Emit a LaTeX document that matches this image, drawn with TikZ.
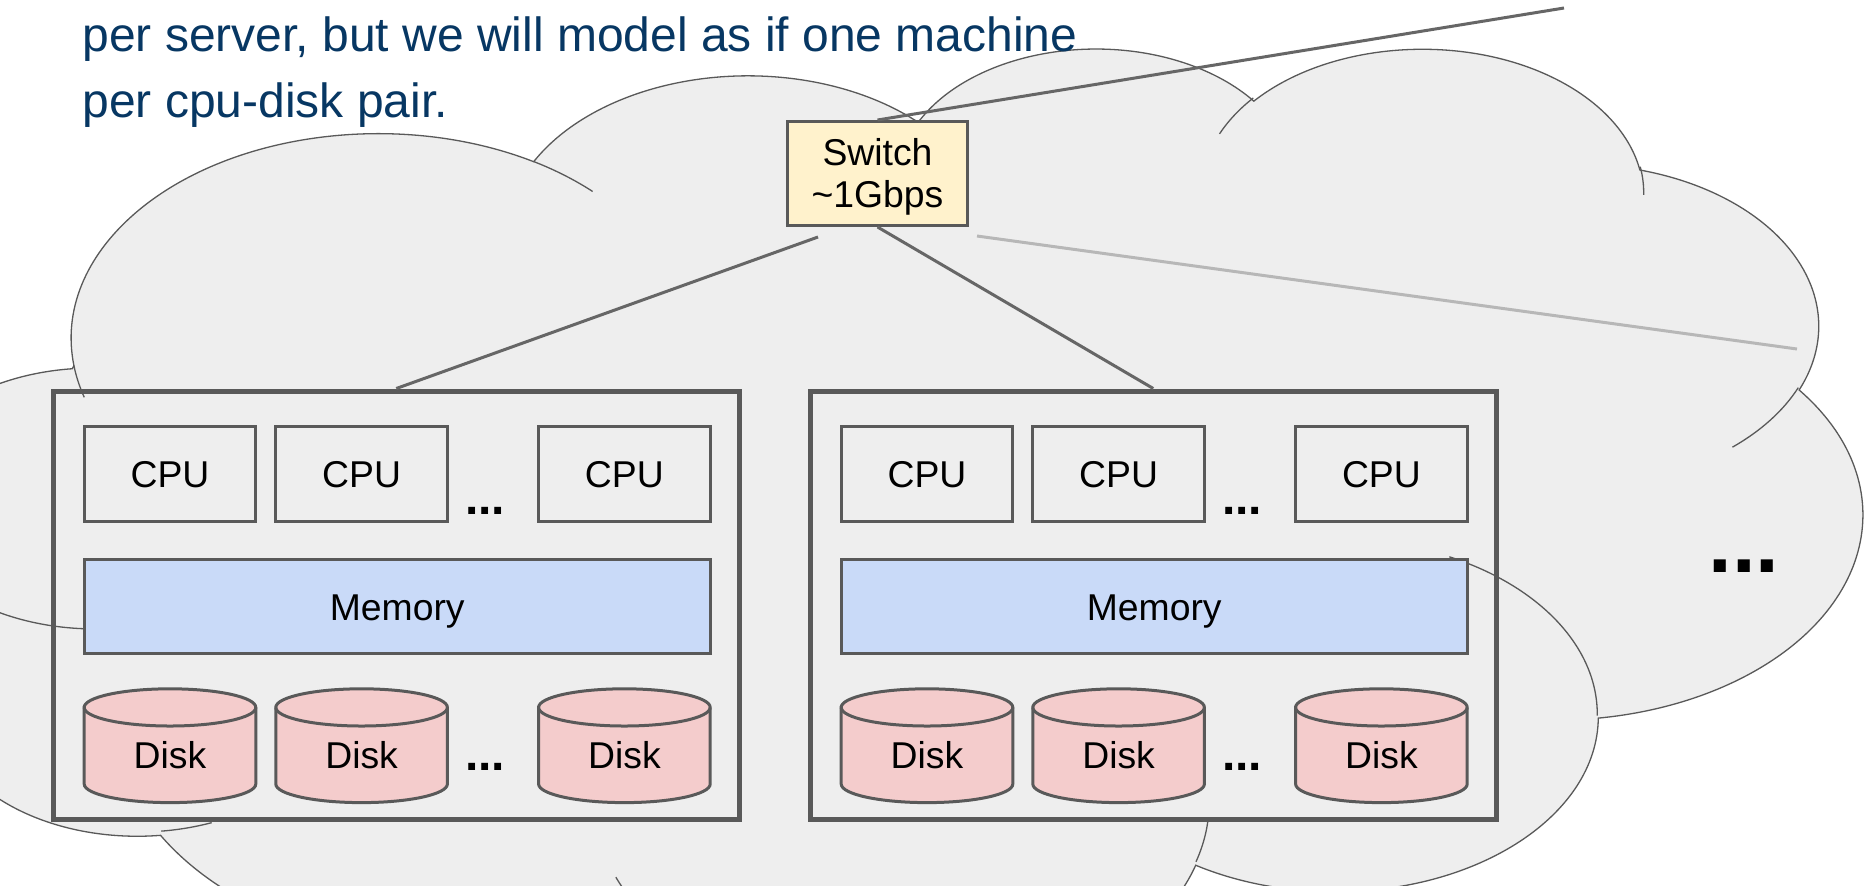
\documentclass[tikz,border=0pt]{standalone}
\usepackage{fontspec}
\setmainfont{Liberation Sans}

\definecolor{boxline}{HTML}{595959}
\definecolor{wire}{HTML}{666666}
\definecolor{wirelight}{HTML}{B7B7B7}
\definecolor{cloudfill}{HTML}{EEEEEE}
\definecolor{cloudline}{HTML}{595959}
\definecolor{memfill}{HTML}{C9DAF8}
\definecolor{diskfill}{HTML}{F4CCCC}
\definecolor{switchfill}{HTML}{FFF2CC}
\definecolor{titleblue}{HTML}{073763}

% Elliptical arc of the cloud outline: x radius, y radius, start angle, sweep.
% Angles are geometric (direction from the centre); pgf wants parametric ones.
\newcommand\cloudarc[4]{%
  \pgfmathsetmacro\cldA{atan2((#1)*sin(#3),(#2)*cos(#3))}%
  \pgfmathsetmacro\cldB{atan2((#1)*sin((#3)+(#4)),(#2)*cos((#3)+(#4)))}%
  \pgfmathsetmacro\cldD{\cldB-\cldA}%
  \pgfmathsetmacro\cldD{\cldD-360*round((\cldD-(#4))/360)}%
  \pgfmathsetmacro\cldB{\cldA+\cldD}%
  \pgfpatharc{\cldA}{\cldB}{#1pt and #2pt}%
}

% A disk cylinder centred at x (top rim at y=707.4), with its named label.
\newcommand\drawdisk[2]{%
  \path[diskbody] ({#2-85.8},707.4) -- ({#2-85.8},784)
    arc[start angle=180, end angle=0, x radius=42.9pt, y radius=9.3pt]
    -- ({#2+85.8},707.4)
    arc[start angle=0, end angle=-180, x radius=42.9pt, y radius=9.3pt]
    -- cycle;
  \draw[diskrim] ({#2-85.8},707.4)
    arc[start angle=180, end angle=0, x radius=42.9pt, y radius=9.3pt];
  \node[disklabel] (#1) at (#2,768.3) {Disk};
}

\tikzset{
  lblfont/.style={font=\fontsize{18.67pt}{21.25pt}\selectfont},
  unitbox/.style={draw=boxline, line width=1.5pt, inner sep=0pt, lblfont,
    text height=13.37pt, text depth=0pt},
  cpubox/.style={unitbox, minimum width=85.8pt, minimum height=47.35pt},
  membox/.style={unitbox, fill=memfill, minimum width=313pt, minimum height=46.85pt},
  server/.style={draw=boxline, line width=2.5pt, inner sep=0pt,
    minimum width=342.75pt, minimum height=214.25pt},
  switchbox/.style={draw=boxline, line width=1.5pt, fill=switchfill, inner sep=0pt,
    minimum width=90pt, minimum height=52pt, lblfont, align=center},
  netline/.style={draw=wire, line width=1.5pt},
  netfaint/.style={draw=wirelight, line width=1.5pt},
  diskbody/.style={fill=diskfill, draw=boxline, line width=1.5pt},
  diskrim/.style={draw=boxline, line width=1.5pt},
  disklabel/.style={inner sep=0pt, anchor=base, lblfont},
  moredots/.style={inner sep=0pt, anchor=base west,
    font=\fontsize{24pt}{24pt}\selectfont\bfseries},
  bigmoredots/.style={inner sep=0pt, anchor=base west,
    font=\fontsize{42.5pt}{42.5pt}\selectfont\bfseries},
  headline/.style={inner sep=0pt, anchor=base west, text=titleblue,
    font=\fontsize{24pt}{33pt}\selectfont}
}

\begin{document}
\begin{tikzpicture}[x=0.5pt, y=0.5pt, yscale=-1]
\useasboundingbox (0,0) rectangle (1872,885);
\fill[white] (0,0) rectangle (1872,885);
\clip (0,0) rectangle (1872,885);

% ---- cloud (outline in a 4320 x 4320 design grid, y pointing down)
\begin{scope}[shift={(-103.5,45.9)}, xscale=0.2275, yscale=0.111275]
  \pgfsetlinewidth{0.65pt}%
  \pgfsetstrokecolor{cloudline}%
  \pgfsetfillcolor{cloudfill}%
  \pgfpathmoveto{\pgfpoint{390pt}{1437pt}}%
  \cloudarc{675.3}{919.0}{-190.4875}{123.7805}%
  \cloudarc{533.3}{726.7}{-144.1024}{89.9452}%
  \cloudarc{436.5}{594.5}{-145.8079}{99.7230}%
  \cloudarc{485.7}{659.5}{-130.9861}{117.2417}%
  \cloudarc{533.3}{727.3}{-78.7089}{109.0269}%
  \cloudarc{677.5}{922.0}{-46.2673}{130.2690}%
  \cloudarc{578.5}{786.7}{0.6250}{114.0333}%
  \cloudarc{675.2}{921.5}{22.4516}{115.1726}%
  \cloudarc{772.0}{1054.3}{66.2426}{75.7110}%
  \cloudarc{436.0}{591.8}{-274.9421}{146.7356}%
  \cloudarc{434.5}{594.5}{-246.8285}{152.5189}%
  \pgfpathclose
  \pgfusepath{fill,stroke}%
  % inner creases of the puffs
  \pgfpathmoveto{\pgfpoint{469.3pt}{2617.7pt}}\cloudarc{434.5}{594.5}{86.7420}{26.4295}%
  \pgfpathmoveto{\pgfpoint{692.8pt}{3489.9pt}}\cloudarc{436.0}{591.8}{73.6105}{11.4475}%
  \pgfpathmoveto{\pgfpoint{1647.8pt}{3909.0pt}}\cloudarc{675.2}{921.5}{137.6242}{14.0811}%
  \pgfpathmoveto{\pgfpoint{2882.7pt}{3475.1pt}}\cloudarc{675.2}{921.5}{6.4533}{15.9984}%
  \pgfpathmoveto{\pgfpoint{3412.9pt}{2295.4pt}}\cloudarc{578.5}{786.7}{-70.2924}{70.9174}%
  \pgfpathmoveto{\pgfpoint{4179.8pt}{1535.4pt}}\cloudarc{533.3}{727.3}{30.3180}{27.7515}%
  \pgfpathmoveto{\pgfpoint{3832.4pt}{542.6pt}}\cloudarc{485.7}{659.5}{-13.7443}{14.8589}%
  \pgfpathmoveto{\pgfpoint{2907.8pt}{395.2pt}}\cloudarc{485.7}{659.5}{-149.1815}{18.1954}%
  \pgfpathmoveto{\pgfpoint{2214.1pt}{472.0pt}}\cloudarc{436.5}{594.5}{-163.4943}{17.6864}%
  \pgfpathmoveto{\pgfpoint{1400.0pt}{519.2pt}}\cloudarc{675.3}{919.0}{-66.7070}{12.3194}%
  \pgfpathmoveto{\pgfpoint{412.7pt}{1578.9pt}}\cloudarc{675.3}{919.0}{157.6544}{11.8582}%
  \pgfusepath{stroke}%
\end{scope}

% ---- heading
\node[headline] (lineOne) at (82,51) {per server, but we will model as if one machine};
\node[headline] (lineTwo) at (82,117) {per cpu-disk pair.};

% ---- switch
\node[switchbox] (sw) at (877.5,173.5) {\rule{0pt}{16.65pt}Switch\\\textasciitilde1Gbps};

% ---- two servers
\node[server] (srvA) at (396.25,605.25) {};
\node[server] (srvB) at (1153.25,605.25) {};

\node[cpubox] (cpuA1) at (170,473.85) {CPU};
\node[cpubox] (cpuA2) at (361.6,473.85) {CPU};
\node[cpubox] (cpuA3) at (624.4,473.85) {CPU};
\node[cpubox] (cpuB1) at (927,473.85) {CPU};
\node[cpubox] (cpuB2) at (1118.6,473.85) {CPU};
\node[cpubox] (cpuB3) at (1381.4,473.85) {CPU};

\node[membox] (memA) at (397.2,606.65) {Memory};
\node[membox] (memB) at (1154.2,606.65) {Memory};

\drawdisk{diskA1}{170}
\drawdisk{diskA2}{361.6}
\drawdisk{diskA3}{624.4}
\drawdisk{diskB1}{927}
\drawdisk{diskB2}{1118.6}
\drawdisk{diskB3}{1381.4}

\node[moredots] (dotsCpuA) at (464.6,514) {...};
\node[moredots] (dotsDiskA) at (464.6,770) {...};
\node[moredots] (dotsCpuB) at (1221.6,514) {...};
\node[moredots] (dotsDiskB) at (1221.6,770) {...};
\node[bigmoredots] (dotsMore) at (1708,572) {...};

% ---- network links
\coordinate (skyEnd) at (1564,8);
\coordinate (tapA) at (818,237);
\coordinate (tapC) at (977,236);
\coordinate (farEnd) at (1797,349);
\draw[netline] (sw.north) -- (skyEnd);
\draw[netline] (tapA) -- (srvA.north);
\draw[netline] (sw.south) -- (srvB.north);
\draw[netfaint] (tapC) -- (farEnd);
\end{tikzpicture}
\end{document}
